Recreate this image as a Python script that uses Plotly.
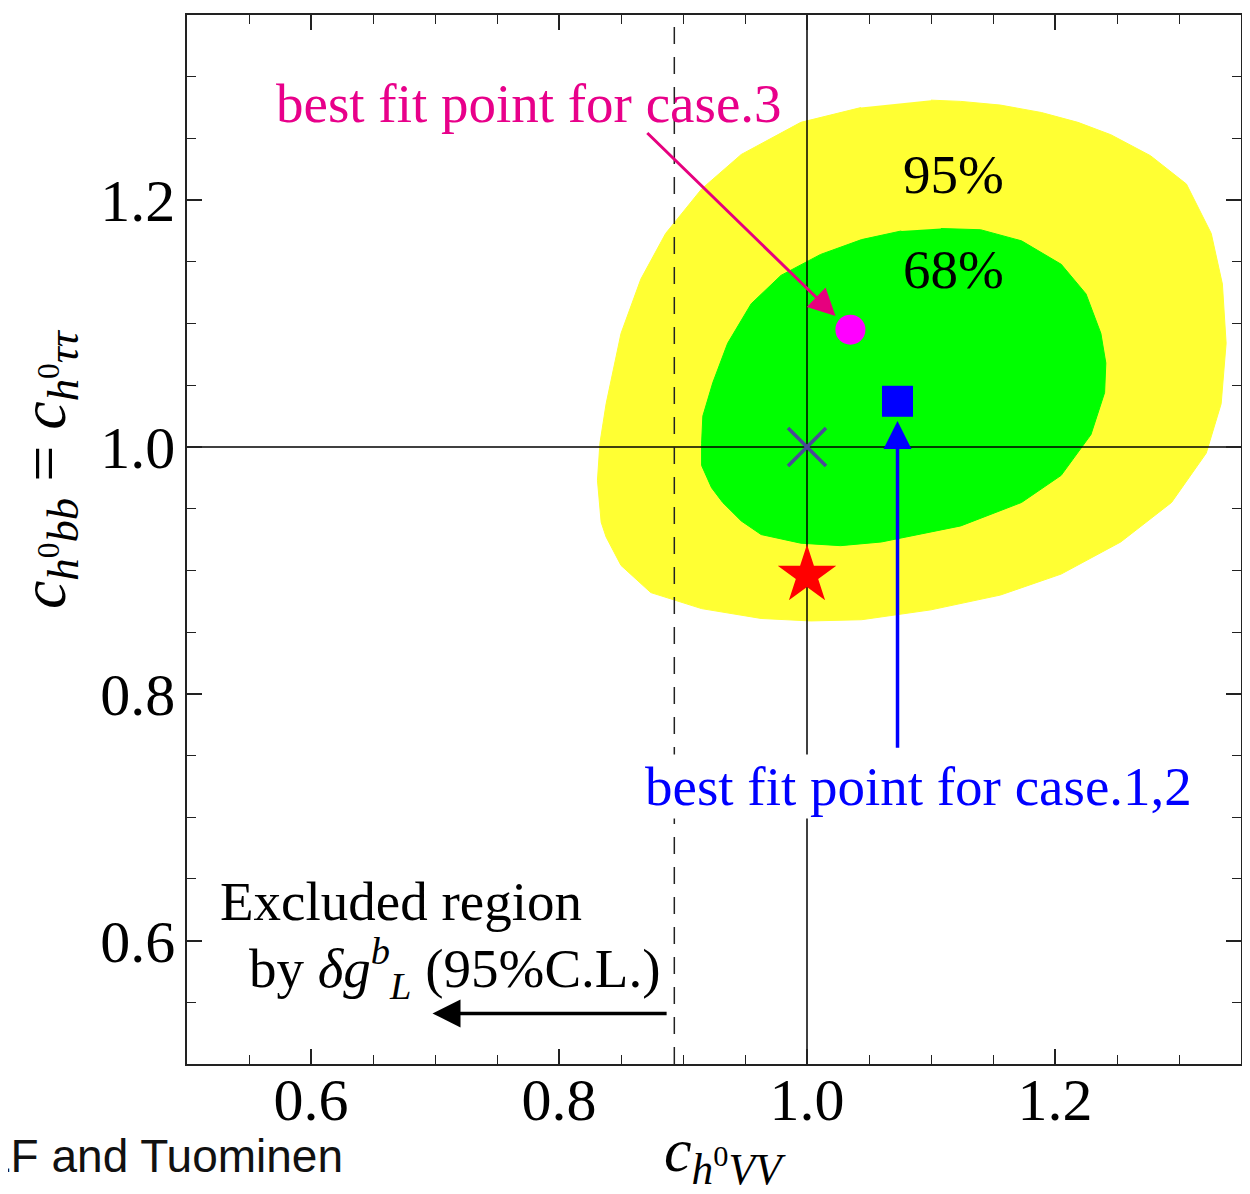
import plotly.graph_objects as go

# ---- data ----
cl95_x = [1.100, 1.124, 1.156, 1.189, 1.2185, 1.245, 1.277, 1.306, 1.326, 1.335, 1.338, 1.334, 1.322,
          1.294, 1.253, 1.205, 1.156, 1.100, 1.044, 1.003, 0.963, 0.915, 0.874, 0.850, 0.838, 0.834,
          0.831, 0.833, 0.838, 0.850, 0.866, 0.886, 0.915, 0.947, 0.995, 1.0435]
cl95_y = [1.281, 1.280, 1.277, 1.271, 1.263, 1.253, 1.236, 1.213, 1.173, 1.132, 1.084, 1.035, 0.995,
          0.955, 0.923, 0.897, 0.880, 0.868, 0.860, 0.859, 0.861, 0.869, 0.882, 0.904, 0.927, 0.939,
          0.973, 1.003, 1.035, 1.092, 1.136, 1.173, 1.209, 1.237, 1.263, 1.275]

cl68_x = [1.108, 1.140, 1.173, 1.205, 1.225, 1.237, 1.241, 1.240, 1.229, 1.205, 1.173, 1.124, 1.060,
          1.027, 0.995, 0.963, 0.947, 0.932, 0.923, 0.915, 0.915, 0.916, 0.924, 0.936, 0.955, 0.979,
          1.011, 1.044, 1.076]
cl68_y = [1.177, 1.176, 1.167, 1.148, 1.124, 1.092, 1.068, 1.044, 1.010, 0.977, 0.955, 0.936, 0.923,
          0.920, 0.922, 0.929, 0.940, 0.955, 0.967, 0.985, 1.003, 1.025, 1.052, 1.084, 1.116, 1.139,
          1.156, 1.168, 1.175]

sm_point = [1.0, 1.0]
case3_point = [1.035, 1.095]
case12_point = [1.073, 1.037]
star_point = [1.0, 0.896]
excl_x = 0.893

x_ticks = [0.6, 0.8, 1.0, 1.2]
y_ticks = [0.6, 0.8, 1.0, 1.2]
tick_text = ["0.6", "0.8", "1.0", "1.2"]
x_range = [0.5, 1.35]
y_range = [0.5, 1.35]

SERIF = "Liberation Serif, Times New Roman, serif"
LBL = 55

fig = go.Figure()
fig.add_trace(go.Scatter(x=cl95_x, y=cl95_y, fill="toself", fillcolor="#ffff33",
                         line=dict(color="#ffff33", width=1), mode="lines", hoverinfo="skip"))
fig.add_trace(go.Scatter(x=cl68_x, y=cl68_y, fill="toself", fillcolor="#00ff00",
                         line=dict(color="#00ff00", width=1), mode="lines", hoverinfo="skip"))
# reference lines
fig.add_trace(go.Scatter(x=[sm_point[0], sm_point[0]], y=y_range, mode="lines",
                         line=dict(color="black", width=1.5)))
fig.add_trace(go.Scatter(x=x_range, y=[sm_point[1], sm_point[1]], mode="lines",
                         line=dict(color="black", width=1.5)))
fig.add_trace(go.Scatter(x=[excl_x, excl_x], y=y_range, mode="lines",
                         line=dict(color="#222222", width=1.5, dash="17px,13px")))
# markers
fig.add_trace(go.Scatter(x=[sm_point[0]], y=[sm_point[1]], mode="markers",
                         marker=dict(symbol="x-thin", size=38, line=dict(color="#4a4a99", width=3.5))))
fig.add_trace(go.Scatter(x=[star_point[0]], y=[star_point[1]], mode="markers",
                         marker=dict(symbol="star", size=44, color="#ff0000", line=dict(width=0))))
fig.add_trace(go.Scatter(x=[case3_point[0]], y=[case3_point[1]], mode="markers",
                         marker=dict(symbol="circle", size=30, color="#ff00ff", line=dict(width=0))))
fig.add_trace(go.Scatter(x=[case12_point[0]], y=[case12_point[1]], mode="markers",
                         marker=dict(symbol="square", size=31, color="#0000ff", line=dict(width=0))))

ann = []
# arrows
ann.append(dict(x=1.023, y=1.106, ax=0.870, ay=1.2556, xref="x", yref="y", axref="x", ayref="y",
                text="", showarrow=True, arrowhead=2, arrowsize=1.8, arrowwidth=3, arrowcolor="#e6007e"))
ann.append(dict(x=case12_point[0], y=1.021, ax=case12_point[0], ay=0.755, xref="x", yref="y", axref="x",
                ayref="y", text="", showarrow=True, arrowhead=2, arrowsize=1.6, arrowwidth=3.5, arrowcolor="#0000ff"))
ann.append(dict(x=0.698, y=0.541, ax=0.888, ay=0.541, xref="x", yref="y", axref="x", ayref="y",
                text="", showarrow=True, arrowhead=2, arrowsize=1.6, arrowwidth=3.5, arrowcolor="black"))
# labels
ann.append(dict(x=0.776, y=1.278, xref="x", yref="y", xanchor="center", yanchor="middle",
                text="best fit point for case.3", showarrow=False,
                font=dict(family=SERIF, size=LBL, color="#e8008a")))
ann.append(dict(x=1.090, y=0.725, xref="x", yref="y", xanchor="center", yanchor="middle",
                text="best fit point for case.1,2", showarrow=False, bgcolor="white",
                font=dict(family=SERIF, size=LBL, color="#0000ff")))
ann.append(dict(x=1.118, y=1.221, xref="x", yref="y", xanchor="center", yanchor="middle", text="95%",
                showarrow=False, font=dict(family=SERIF, size=LBL, color="black")))
ann.append(dict(x=1.118, y=1.144, xref="x", yref="y", xanchor="center", yanchor="middle", text="68%",
                showarrow=False, font=dict(family=SERIF, size=LBL, color="black")))
ann.append(dict(x=0.525, y=0.632, xref="x", yref="y", xanchor="left", yanchor="middle",
                text="Excluded region", showarrow=False, font=dict(family=SERIF, size=LBL, color="black")))
ann.append(dict(x=0.548, y=0.577, xref="x", yref="y", xanchor="left", yanchor="middle",
                text="by <i>δg</i><sup><i>b</i></sup><sub><i>L</i></sub> (95%C.L.)",
                showarrow=False, font=dict(family=SERIF, size=LBL, color="black")))
# axis titles
ann.append(dict(x=0.510, y=-0.086, xref="paper", yref="paper", xanchor="center", yanchor="middle",
                showarrow=False, text="<i>c</i><sub><i>h</i><sup>0</sup><i>VV</i></sub>",
                font=dict(family=SERIF, size=62, color="black")))
ann.append(dict(x=-0.132, y=0.567, xref="paper", yref="paper", xanchor="center", yanchor="middle",
                showarrow=False, textangle=-90,
                text="<i>c</i><sub><i>h</i><sup>0</sup><i>bb</i></sub> = <i>c</i><sub><i>h</i><sup>0</sup><i>ττ</i></sub>",
                font=dict(family=SERIF, size=64, color="black")))
ann.append(dict(x=0.150, y=-0.0875, xref="paper", yref="paper", xanchor="right", yanchor="middle",
                showarrow=False, text="LF and Tuominen",
                font=dict(family="Liberation Sans, Arial, sans-serif", size=46, color="#111111")))

axis_common = dict(showgrid=False, zeroline=False, showline=True, linecolor="#222222", linewidth=1.5,
                   mirror="ticks", ticks="inside", ticklen=15, tickwidth=1.5, tickcolor="#222222",
                   tickfont=dict(family=SERIF, size=60, color="black"),
                   minor=dict(ticks="inside", dtick=0.05, tick0=0, ticklen=9, tickwidth=1.2, tickcolor="#222222"))

fig.update_layout(
    width=1250, height=1194,
    margin=dict(l=179, r=17, t=5, b=138),
    paper_bgcolor="white", plot_bgcolor="white",
    showlegend=False,
    xaxis=dict(range=x_range, tickvals=x_ticks, ticktext=tick_text, ticklabelstandoff=-18, **axis_common),
    yaxis=dict(range=y_range, tickvals=y_ticks, ticktext=tick_text, ticklabelstandoff=-2, **axis_common),
    annotations=ann,
)
fig.write_html("out.html")
